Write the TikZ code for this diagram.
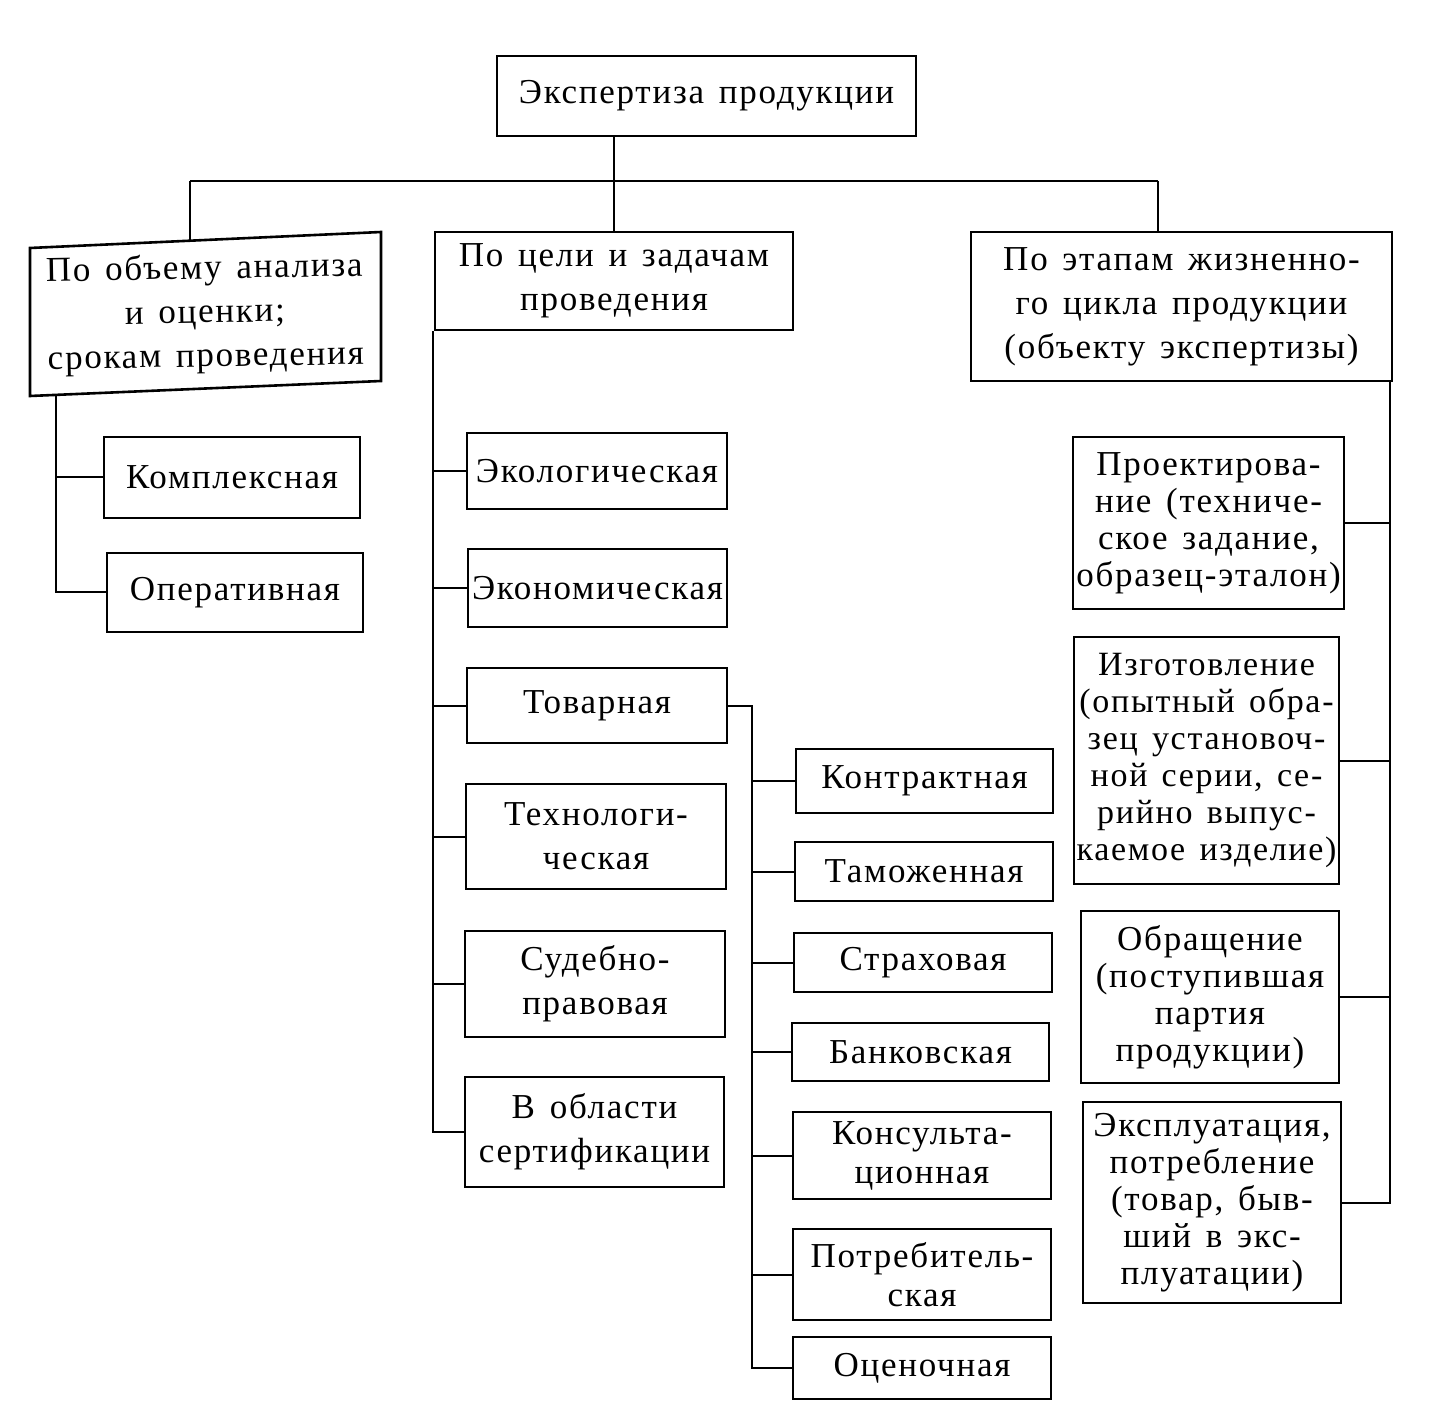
\documentclass[tikz,border=0pt]{standalone}
\usepackage{fontspec}
\setmainfont{Liberation Serif}[LetterSpace=5,WordSpace=1.4]
\newcommand\bx[7]{\node[box,#6,minimum width={(#4-#2)*0.5pt},minimum height={(#5-#3)*0.5pt}] (#1) at ({(#2+#4)/2},{(#3+#5)/2}) {#7};}
\begin{document}
\begin{tikzpicture}[x=0.5pt,y=-0.5pt,
  box/.style={draw,line width=1.3pt,inner sep=0pt,align=center,font=\fontsize{17.5}{22}\selectfont},
  tight/.style={font=\fontsize{17.5}{18.5}\selectfont},
  tighter/.style={font=\fontsize{17}{18.5}\selectfont},
  mid/.style={font=\fontsize{17.5}{19.5}\selectfont},
  conn/.style={line width=1pt}]
\useasboundingbox (0,0) rectangle (1451,1411);
% top
\bx{top}{497}{56}{916}{136}{}{Экспертиза продукции}
% level 1
\node[box,draw=none,rotate=1,minimum width=175.5pt,minimum height=74.5pt] (lft) at (205,314) {По объему анализа\\и оценки;\\срокам проведения};
\draw[line width=1.3pt] (30,248) -- (381,232) -- (381,381) -- (30,396) -- cycle;
\bx{mid}{435}{232}{793}{330}{}{По цели и задачам\\проведения}
\bx{rgt}{971}{232}{1392}{381}{}{По этапам жизненно-\\го цикла продукции\\(объекту экспертизы)}
% left group
\bx{kompl}{104}{437}{360}{518}{}{Комплексная}
\bx{oper}{107}{553}{363}{632}{}{Оперативная}
% middle group
\bx{eco}{467}{433}{727}{509}{}{Экологическая}
\bx{econ}{468}{549}{727}{627}{}{Экономическая}
\bx{tov}{467}{668}{727}{743}{}{Товарная}
\bx{tech}{466}{784}{726}{889}{}{Технологи-\\ческая}
\bx{sud}{465}{931}{725}{1037}{}{Судебно-\\правовая}
\bx{sert}{465}{1077}{724}{1187}{}{В области\\сертификации}
% tovarnaya group
\bx{kontr}{796}{749}{1053}{813}{}{Контрактная}
\bx{tam}{795}{842}{1053}{901}{}{Таможенная}
\bx{strah}{794}{933}{1052}{992}{}{Страховая}
\bx{bank}{792}{1023}{1049}{1081}{}{Банковская}
\bx{kons}{793}{1112}{1051}{1199}{mid}{Консульта-\\ционная}
\bx{potr}{793}{1229}{1051}{1320}{mid}{Потребитель-\\ская}
\bx{otsen}{793}{1337}{1051}{1399}{}{Оценочная}
% right group
\bx{proekt}{1073}{437}{1344}{609}{tight}{Проектирова-\\ние (техниче-\\ское задание,\\образец-эталон)}
\bx{izgot}{1074}{637}{1339}{884}{tighter}{Изготовление\\(опытный обра-\\зец установоч-\\ной серии, се-\\рийно выпус-\\каемое изделие)}
\bx{obr}{1081}{911}{1339}{1083}{tight}{Обращение\\(поступившая\\партия\\продукции)}
\bx{expl}{1083}{1102}{1341}{1303}{tight}{Эксплуатация,\\потребление\\(товар, быв-\\ший в экс-\\плуатации)}
% connectors top
\coordinate (hl) at (190,181);
\coordinate (hr) at (1158,181);
\draw[conn] (top.south -| mid.north) -- (mid.north);
\draw[conn] (hl) -- (hr);
\draw[conn] (hl) -- ++(0,59.5);
\draw[conn] (hr) -- (hr |- rgt.north);
% left spine
\coordinate (lsx) at (56,395);
\draw[conn] (lsx) -- (lsx |- oper.west) -- (oper.west);
\draw[conn] (lsx |- kompl.west) -- (kompl.west);
% middle spine
\coordinate (msx) at (433,0);
\draw[conn] (msx |- mid.south) -- (msx |- sert.west) -- (sert.west);
\foreach \n in {eco,econ,tov,tech,sud}
  \draw[conn] (msx |- \n.west) -- (\n.west);
% tovarnaya spine
\coordinate (tsx) at (752,0);
\draw[conn] (tov.east) -- (tsx |- tov.east) -- (tsx |- otsen.west) -- (otsen.west);
\foreach \n in {kontr,tam,strah,bank,kons,potr}
  \draw[conn] (tsx |- \n.west) -- (\n.west);
% right spine
\coordinate (rsx) at (1390,0);
\draw[conn] (rsx |- rgt.south) -- (rsx |- expl.east) -- (expl.east);
\foreach \n in {proekt,izgot,obr}
  \draw[conn] (rsx |- \n.east) -- (\n.east);
\end{tikzpicture}
\end{document}
